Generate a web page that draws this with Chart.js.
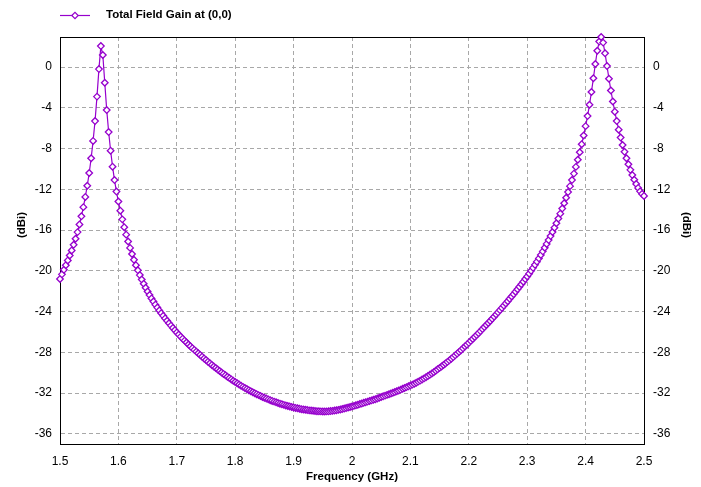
<!DOCTYPE html>
<html>
<head>
<meta charset="utf-8">
<script src="https://cdn.jsdelivr.net/npm/chart.js@4.4.1/dist/chart.umd.min.js"></script>
<style>
  html, body { margin: 0; padding: 0; background: #fff; }
</style>
</head>
<body>
<canvas id="gainChart" width="701" height="487"></canvas>
<script>
// Sweep 1.5 - 2.5 GHz, 301 points
const seriesName = 'Total Field Gain at (0,0)';
const freqStart = 1.5;
const freqStep = 1 / 300;

// Gain (dBi), one value per sweep point
const gainDbi = [
  -20.8, -20.35, -19.9, -19.45, -18.98, -18.5, -18.0, -17.45, -16.85, -16.2,
  -15.45, -14.65, -13.75, -12.75, -11.65, -10.4, -8.95, -7.25, -5.3, -2.9,
  -0.2, 2.06, 1.18, -1.54, -4.22, -6.38, -8.21, -9.78, -11.09, -12.22,
  -13.2, -14.1, -14.95, -15.72, -16.45, -17.12, -17.75, -18.35, -18.92, -19.45,
  -19.95, -20.42, -20.86, -21.27, -21.66, -22.03, -22.38, -22.71, -23.02, -23.32,
  -23.61, -23.89, -24.16, -24.42, -24.67, -24.91, -25.15, -25.38, -25.61, -25.83,
  -26.05, -26.26, -26.46, -26.66, -26.85, -27.04, -27.23, -27.41, -27.59, -27.76,
  -27.93, -28.1, -28.26, -28.43, -28.6, -28.76, -28.92, -29.08, -29.24, -29.39,
  -29.54, -29.69, -29.84, -29.98, -30.12, -30.26, -30.4, -30.53, -30.66, -30.79,
  -30.92, -31.04, -31.16, -31.28, -31.39, -31.5, -31.61, -31.72, -31.82, -31.92,
  -32.02, -32.11, -32.2, -32.29, -32.38, -32.46, -32.54, -32.62, -32.7, -32.77,
  -32.84, -32.91, -32.98, -33.04, -33.1, -33.16, -33.22, -33.27, -33.32, -33.37,
  -33.42, -33.46, -33.5, -33.54, -33.58, -33.61, -33.64, -33.67, -33.7, -33.72,
  -33.74, -33.76, -33.78, -33.79, -33.8, -33.81, -33.81, -33.8, -33.79, -33.77,
  -33.75, -33.72, -33.69, -33.65, -33.61, -33.57, -33.52, -33.47, -33.42, -33.37,
  -33.32, -33.26, -33.2, -33.14, -33.08, -33.02, -32.96, -32.9, -32.84, -32.78,
  -32.72, -32.66, -32.6, -32.53, -32.46, -32.39, -32.32, -32.25, -32.18, -32.11,
  -32.04, -31.97, -31.9, -31.82, -31.74, -31.66, -31.58, -31.5, -31.42, -31.34,
  -31.26, -31.17, -31.08, -30.98, -30.88, -30.78, -30.67, -30.56, -30.45, -30.33,
  -30.21, -30.08, -29.95, -29.81, -29.67, -29.53, -29.39, -29.24, -29.09, -28.94,
  -28.79, -28.63, -28.47, -28.3, -28.13, -27.96, -27.79, -27.61, -27.43, -27.25,
  -27.07, -26.88, -26.69, -26.5, -26.31, -26.12, -25.92, -25.72, -25.52, -25.32,
  -25.12, -24.92, -24.71, -24.5, -24.29, -24.08, -23.86, -23.64, -23.42, -23.2,
  -22.98, -22.75, -22.52, -22.29, -22.05, -21.81, -21.57, -21.32, -21.07, -20.81,
  -20.55, -20.28, -20.0, -19.71, -19.41, -19.1, -18.78, -18.44, -18.09, -17.73,
  -17.36, -16.98, -16.59, -16.19, -15.77, -15.33, -14.87, -14.39, -13.89, -13.37,
  -12.83, -12.27, -11.69, -11.09, -10.46, -9.8, -9.1, -8.36, -7.57, -6.72,
  -5.8, -4.81, -3.7, -2.45, -1.1, 0.3, 1.6, 2.5, 2.95, 2.4,
  1.35, 0.1, -1.15, -2.3, -3.38, -4.38, -5.3, -6.15, -6.92, -7.65,
  -8.32, -8.95, -9.54, -10.09, -10.6, -11.06, -11.48, -11.86, -12.2, -12.45,
  -12.65
];

// Axis ticks
const xTicks = [1.5, 1.6, 1.7, 1.8, 1.9, 2.0, 2.1, 2.2, 2.3, 2.4, 2.5];
const xLabels = ['1.5', '1.6', '1.7', '1.8', '1.9', '2', '2.1', '2.2', '2.3', '2.4', '2.5'];
const yTicks = [0, -4, -8, -12, -16, -20, -24, -28, -32, -36];
const yMin = -37;
const yMax = 2.95;

const purple = 'rgb(150, 0, 205)';
const gridGray = '#a8a8a8';
const fontFamily = '"Liberation Sans", Arial, sans-serif';
const tickFont = { family: fontFamily, size: 12 };
const boldFont = 'bold 11.5px ' + fontFamily;

Chart.defaults.font.family = fontFamily;
Chart.defaults.color = '#000';

const points = gainDbi.map((g, i) => ({ x: freqStart + i * freqStep, y: g }));

// Closed black frame around the plot area
const framePlugin = {
  id: 'frame',
  beforeDatasetsDraw(chart) {
    const { ctx, chartArea: a } = chart;
    ctx.save();
    ctx.strokeStyle = '#000';
    ctx.lineWidth = 1;
    ctx.strokeRect(Math.round(a.left) + 0.5, Math.round(a.top) + 0.5,
      Math.round(a.right - a.left), Math.round(a.bottom - a.top));
    ctx.restore();
  }
};

// Legend (line + diamond sample) and the two rotated axis titles
const labelsPlugin = {
  id: 'labels',
  afterDraw(chart) {
    const { ctx, chartArea: a } = chart;
    ctx.save();
    ctx.strokeStyle = purple;
    ctx.lineWidth = 1.2;
    ctx.beginPath();
    ctx.moveTo(a.left, 15.5);
    ctx.lineTo(a.left + 30, 15.5);
    ctx.stroke();
    const cx = a.left + 15, cy = 15.5, r = 3.2;
    ctx.beginPath();
    ctx.moveTo(cx - r, cy);
    ctx.lineTo(cx, cy - r);
    ctx.lineTo(cx + r, cy);
    ctx.lineTo(cx, cy + r);
    ctx.closePath();
    ctx.fillStyle = '#fff';
    ctx.fill();
    ctx.stroke();

    ctx.fillStyle = '#000';
    ctx.font = boldFont;
    ctx.textBaseline = 'middle';
    ctx.textAlign = 'left';
    ctx.fillText(seriesName, a.left + 46, 15);

    ctx.textAlign = 'center';
    ctx.translate(22, 225);
    ctx.rotate(-Math.PI / 2);
    ctx.fillText('(dBi)', 0, 0);
    ctx.restore();

    ctx.save();
    ctx.fillStyle = '#000';
    ctx.font = boldFont;
    ctx.textBaseline = 'middle';
    ctx.textAlign = 'center';
    ctx.translate(686, 225);
    ctx.rotate(Math.PI / 2);
    ctx.fillText('(dBi)', 0, 0);
    ctx.restore();
  }
};

new Chart(document.getElementById('gainChart'), {
  type: 'line',
  data: {
    datasets: [{
      label: seriesName,
      data: points,
      borderColor: purple,
      borderWidth: 1.2,
      pointStyle: 'rectRot',
      pointRadius: 3.3,
      pointHoverRadius: 3.3,
      pointBorderWidth: 1.3,
      pointBackgroundColor: '#fff',
      pointBorderColor: purple,
      tension: 0,
      fill: false,
      clip: false
    }]
  },
  options: {
    responsive: false,
    animation: false,
    devicePixelRatio: 1,
    layout: { padding: { top: 37, left: 0, right: 0, bottom: 0 } },
    plugins: {
      legend: { display: false },
      tooltip: { enabled: false }
    },
    scales: {
      x: {
        type: 'linear',
        min: 1.5,
        max: 2.5,
        afterBuildTicks: s => { s.ticks = xTicks.map(v => ({ value: v })); },
        afterFit: s => { s.height = 43; },
        ticks: {
          callback: (v, i) => xLabels[i],
          autoSkip: false,
          maxRotation: 0,
          padding: 10,
          font: tickFont
        },
        grid: { color: gridGray, drawTicks: false },
        border: { color: '#000', dash: [4, 3] },
        title: {
          display: true,
          text: 'Frequency (GHz)',
          padding: { top: 0, bottom: 3 },
          font: { family: fontFamily, size: 11.5, weight: 'bold' }
        }
      },
      y: {
        position: 'left',
        min: yMin,
        max: yMax,
        afterBuildTicks: s => { s.ticks = yTicks.map(v => ({ value: v })); },
        afterFit: s => { s.width = 60; },
        ticks: { callback: v => String(v), padding: 8, font: tickFont },
        grid: { color: gridGray, drawTicks: false },
        border: { color: '#000', dash: [4, 3] }
      },
      y2: {
        position: 'right',
        min: yMin,
        max: yMax,
        afterBuildTicks: s => { s.ticks = yTicks.map(v => ({ value: v })); },
        afterFit: s => { s.width = 57; },
        ticks: { callback: v => String(v), padding: 9, font: tickFont },
        grid: { display: false, drawTicks: false },
        border: { color: '#000' }
      }
    }
  },
  plugins: [framePlugin, labelsPlugin]
});
</script>
</body>
</html>
